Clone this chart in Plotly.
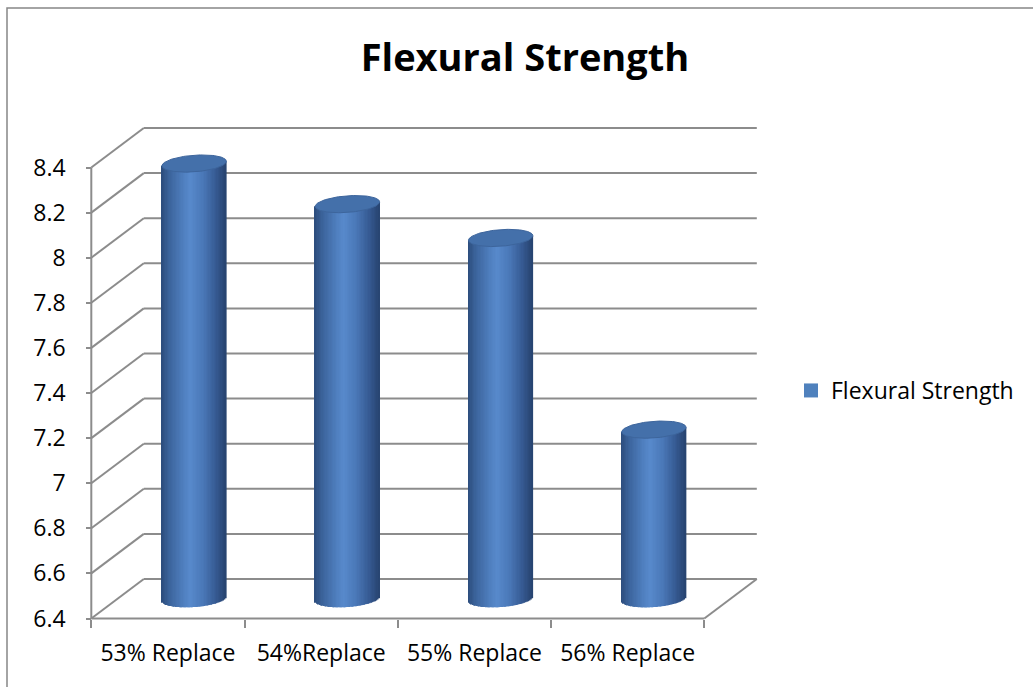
import numpy as np
import plotly.graph_objects as go

# ---- data -------------------------------------------------------------
categories = ["53% Replace", "54%Replace", "55% Replace", "56% Replace"]
strength = [8.33, 8.15, 8.00, 7.15]
series_name = "Flexural Strength"
y_tick_vals = [6.4, 6.6, 6.8, 7.0, 7.2, 7.4, 7.6, 7.8, 8.0, 8.2, 8.4]
y_tick_text = ["6.4", "6.6", "6.8", "7", "7.2", "7.4", "7.6", "7.8", "8", "8.2", "8.4"]

# ---- geometry of the pseudo-3D box ------------------------------------
W, H = 1033, 687
L, R, T, B = 84, 762, 120, 624          # plot area in pixels
PX_X = 153.25                            # pixels per category
PX_Y = 225.5                             # pixels per value unit
X0_PIX, Y0_PIX = 91.3, 618.5             # front-left-bottom corner
Y_MIN, Y_MAX = y_tick_vals[0], y_tick_vals[-1]
X_MIN, X_MAX = -0.5, len(categories) - 0.5

x_range = [X_MIN - (X0_PIX - L) / PX_X, X_MIN + (R - X0_PIX) / PX_X]
y_range = [Y_MIN - (B - Y0_PIX) / PX_Y, Y_MIN + (Y0_PIX - T) / PX_Y]

DX = 52.5 / PX_X                         # depth offset (x)
DY = 39.5 / PX_Y                         # depth offset (y)

GRID = "#8c8c8c"
GRID_W = 2

shapes = []
def seg(x0, y0, x1, y1, layer="below"):
    shapes.append(dict(type="line", xref="x", yref="y", x0=x0, y0=y0, x1=x1, y1=y1,
                       line=dict(color=GRID, width=GRID_W), layer=layer))

# back wall gridlines + left wall diagonals
for v in y_tick_vals:
    seg(X_MIN + DX, v + DY, X_MAX + DX, v + DY)
    seg(X_MIN, v, X_MIN + DX, v + DY)
# floor front and right edges, value axis line
seg(X_MIN, Y_MIN, X_MAX, Y_MIN)
seg(X_MAX, Y_MIN, X_MAX + DX, Y_MIN + DY)
seg(X_MIN, Y_MIN, X_MIN, Y_MAX)

# outer chart border
def px_to_paper_x(p):
    return (p - L) / (R - L)
def px_to_paper_y(p):
    return (B - p) / (B - T)
shapes.append(dict(type="rect", xref="paper", yref="paper",
                   x0=px_to_paper_x(7), x1=px_to_paper_x(W + 20),
                   y0=px_to_paper_y(H + 20), y1=px_to_paper_y(8),
                   line=dict(color="#878787", width=1.5), fillcolor="rgba(0,0,0,0)",
                   layer="below"))

# ---- cylinders --------------------------------------------------------
rx = 32.2 / PX_X
ry = 8.3 / PX_Y
tilt = (4.5 / PX_Y) / (2 * rx)
N_SLICES = 48

shade_u = [-1.0, -0.75, -0.3, -0.1, 0.3, 0.7, 1.0]
shade_rgb = [(44, 76, 124), (60, 100, 156), (80, 128, 192), (88, 138, 204),
             (74, 120, 184), (54, 90, 146), (40, 68, 112)]

def shade(u):
    r = np.interp(u, shade_u, [c[0] for c in shade_rgb])
    g = np.interp(u, shade_u, [c[1] for c in shade_rgb])
    b = np.interp(u, shade_u, [c[2] for c in shade_rgb])
    return f"rgb({int(r)},{int(g)},{int(b)})"

cx = np.arange(len(categories)) + DX / 2
base_level = Y_MIN + DY / 2
tops = np.array(strength) + DY / 2

fig = go.Figure()
slice_w = 2 * rx / N_SLICES
for j in range(N_SLICES):
    u = -1 + (2 * j + 1) / N_SLICES
    xc = cx + u * rx
    y_top = tops + tilt * u * rx
    y_bot = base_level + tilt * u * rx - ry * np.sqrt(max(0.0, 1 - u * u))
    fig.add_trace(go.Bar(
        x=xc, y=y_top - y_bot, base=y_bot,
        width=slice_w * 1.35, offset=-slice_w * 1.35 / 2,
        marker=dict(color=shade(u), line=dict(width=0)),
        showlegend=False, hoverinfo="skip",
    ))

t = np.linspace(0, 2 * np.pi, 120)
for i in range(len(categories)):
    ex = cx[i] + rx * np.cos(t)
    ey = tops[i] + tilt * rx * np.cos(t) + ry * np.sin(t)
    fig.add_trace(go.Scatter(
        x=ex, y=ey, mode="lines", fill="toself",
        fillcolor="#4470aa", line=dict(color="#3d659c", width=1),
        showlegend=False, hoverinfo="skip",
    ))

# legend entry
fig.add_trace(go.Scatter(
    x=[None], y=[None], mode="markers", name=series_name,
    marker=dict(symbol="square", size=14, color="#4f81bd"),
))

FONT = "Open Sans"
fig.update_layout(
    width=W, height=H,
    margin=dict(l=L, r=W - R, t=T, b=H - B),
    paper_bgcolor="white", plot_bgcolor="white",
    font=dict(family=FONT, size=23, color="black"),
    barmode="overlay",
    shapes=shapes,
    title=dict(text=series_name, x=525 / W, xanchor="center",
               y=1 - 58 / H, yanchor="middle", yref="container",
               font=dict(family=FONT, size=38, color="black", weight="bold")),
    legend=dict(x=px_to_paper_x(791), y=px_to_paper_y(390.5),
                xanchor="left", yanchor="middle",
                font=dict(family=FONT, size=23, color="black"),
                bgcolor="rgba(0,0,0,0)"),
    xaxis=dict(range=x_range, showgrid=False, zeroline=False, showline=False,
               tickmode="array", tickvals=list(range(len(categories))),
               ticktext=categories, ticks="", ticklabelstandoff=18,
               anchor="free", position=px_to_paper_y(Y0_PIX),
               minor=dict(tickmode="array",
                          tickvals=[k - 0.5 for k in range(len(categories) + 1)],
                          ticks="outside", ticklen=8, tickwidth=GRID_W,
                          tickcolor=GRID, showgrid=False),
               fixedrange=True),
    yaxis=dict(range=y_range, showgrid=False, zeroline=False, showline=False,
               tickmode="array", tickvals=y_tick_vals, ticktext=y_tick_text,
               ticks="outside", ticklen=5, tickwidth=GRID_W, tickcolor=GRID,
               ticklabelstandoff=16,
               anchor="free", position=px_to_paper_x(X0_PIX),
               fixedrange=True),
)

fig.write_html("out.html")
